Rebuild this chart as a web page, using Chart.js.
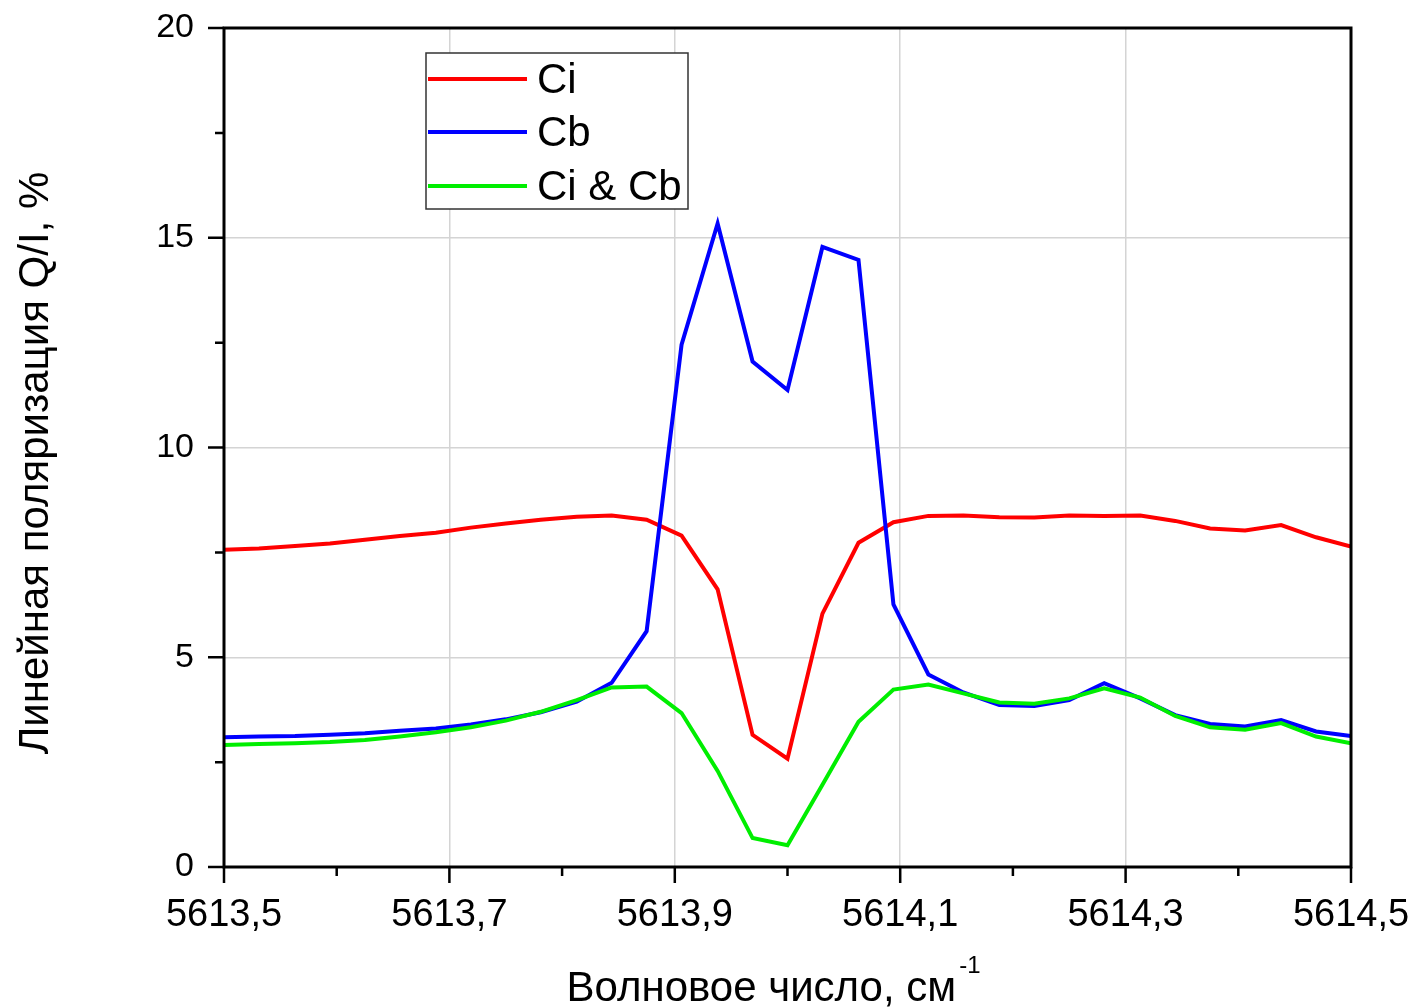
<!DOCTYPE html>
<html lang="ru">
<head>
  <meta charset="UTF-8">
  <title>Линейная поляризация</title>
  <style>
* {
  margin: 0;
  padding: 0;
}
body {
  background: #fff;
}
  </style>
</head>
<body>
  <canvas id="myChart" width="1410" height="1007"></canvas>
  <script src="https://cdn.jsdelivr.net/npm/chart.js@4.4.1/dist/chart.umd.min.js"></script>
  <script>
    // волновое число, см-1
    let waveNumbers = [
      5613.500, 5613.531, 5613.563, 5613.594, 5613.625, 5613.656, 5613.688, 5613.719,
      5613.750, 5613.781, 5613.813, 5613.844, 5613.875, 5613.906, 5613.938, 5613.969,
      5614.000, 5614.031, 5614.063, 5614.094, 5614.125, 5614.156, 5614.188, 5614.219,
      5614.250, 5614.281, 5614.313, 5614.344, 5614.375, 5614.406, 5614.438, 5614.469,
      5614.500
    ];
    let ciValues = [
      7.56, 7.59, 7.65, 7.71, 7.80, 7.89, 7.97, 8.09, 8.19, 8.28, 8.35, 8.38, 8.28, 7.90, 6.62, 3.15,
      2.58, 6.04, 7.73, 8.22, 8.37, 8.38, 8.34, 8.33, 8.38, 8.37, 8.38, 8.25, 8.07, 8.02, 8.15, 7.86,
      7.64
    ];
    let cbValues = [
      3.09, 3.11, 3.12, 3.15, 3.19, 3.25, 3.30, 3.40, 3.52, 3.69, 3.94, 4.39, 5.62, 12.45, 15.34, 12.05,
      11.37, 14.78, 14.47, 6.26, 4.59, 4.16, 3.86, 3.84, 3.98, 4.38, 4.02, 3.62, 3.41, 3.35, 3.50, 3.23,
      3.12
    ];
    let ciCbValues = [
      2.91, 2.93, 2.95, 2.98, 3.03, 3.11, 3.21, 3.33, 3.49, 3.70, 3.98, 4.28, 4.30, 3.67, 2.29, 0.69,
      0.52, 1.96, 3.46, 4.23, 4.35, 4.14, 3.92, 3.89, 4.02, 4.26, 4.04, 3.60, 3.33, 3.27, 3.43, 3.11,
      2.95
    ];
    let seriesNames = ['Ci', 'Cb', 'Ci & Cb'];
    let seriesColors = ['#ff0000', '#0000ff', '#00ee00'];
    let xMin = 5613.5, xMax = 5614.5, xStep = 0.1;
    let yMin = 0, yMax = 20, yStep = 2.5;

    let fontFamily = '"Liberation Sans", Arial, sans-serif';

    function toPoints(values) {
      return values.map((v, i) => ({ x: waveNumbers[i], y: v }));
    }
    function isMajorX(v) {
      let n = Math.round((v - xMin) * 10);
      return n % 2 === 0;
    }
    function isMajorY(v) {
      return Math.abs(v / 5 - Math.round(v / 5)) < 1e-6;
    }
    // убираем автоматические отступы шкал, чтобы область графика была фиксированной
    function noPad(s) {
      s.paddingLeft = 0;
      s.paddingRight = 0;
      s.paddingTop = 0;
      s.paddingBottom = 0;
    }

    // рамка, засечки, подписи осей и легенда
    let decorPlugin = {
      id: 'decor',
      afterDraw(chart) {
        let c = chart.ctx;
        let a = chart.chartArea;
        let xs = chart.scales.x, ys = chart.scales.y;
        c.save();
        c.strokeStyle = '#000';
        c.lineWidth = 3;
        c.strokeRect(a.left, a.top, a.right - a.left, a.bottom - a.top);

        c.lineWidth = 2.5;
        c.beginPath();
        xs.ticks.forEach(t => {
          let px = xs.getPixelForValue(t.value);
          let len = isMajorX(t.value) ? 16 : 9;
          c.moveTo(px, a.bottom);
          c.lineTo(px, a.bottom + len);
        });
        ys.ticks.forEach(t => {
          let py = ys.getPixelForValue(t.value);
          let len = isMajorY(t.value) ? 16 : 9;
          c.moveTo(a.left, py);
          c.lineTo(a.left - len, py);
        });
        c.stroke();

        // подпись оси X с показателем степени
        c.fillStyle = '#000';
        c.textBaseline = 'alphabetic';
        c.font = '42px ' + fontFamily;
        let xt = 'Волновое число, см';
        let w = c.measureText(xt).width;
        c.font = '24px ' + fontFamily;
        let sw = c.measureText('-1').width;
        let x0 = 772 - (w + sw) / 2;
        c.font = '42px ' + fontFamily;
        c.textAlign = 'left';
        c.fillText(xt, x0, 1001);
        c.font = '24px ' + fontFamily;
        c.fillText('-1', x0 + w + 3, 973);

        // подпись оси Y
        c.save();
        c.translate(48, 463);
        c.rotate(-Math.PI / 2);
        c.font = '42px ' + fontFamily;
        c.textAlign = 'center';
        c.fillText('Линейная поляризация Q/I, %', 0, 0);
        c.restore();

        // легенда
        c.lineWidth = 1.5;
        c.strokeStyle = '#333';
        c.fillStyle = '#fff';
        c.fillRect(426, 53, 262, 156);
        c.strokeRect(426, 53, 262, 156);
        c.font = '42px ' + fontFamily;
        c.textAlign = 'left';
        c.textBaseline = 'middle';
        let rows = [79, 132, 186];
        seriesNames.forEach((name, i) => {
          c.strokeStyle = seriesColors[i];
          c.lineWidth = 4;
          c.beginPath();
          c.moveTo(428, rows[i]);
          c.lineTo(527, rows[i]);
          c.stroke();
          c.fillStyle = '#000';
          c.fillText(name, 537, rows[i] + 2);
        });
        c.restore();
      }
    };

    let ctx = document.getElementById('myChart').getContext('2d');
    let myChart = new Chart(ctx, {
      type: 'line',
      data: {
        datasets: [
          { label: seriesNames[0], data: toPoints(ciValues), borderColor: seriesColors[0], order: 3 },
          { label: seriesNames[1], data: toPoints(cbValues), borderColor: seriesColors[1], order: 2 },
          { label: seriesNames[2], data: toPoints(ciCbValues), borderColor: seriesColors[2], order: 1 }
        ]
      },
      options: {
        responsive: false,
        animation: false,
        layout: { padding: { left: 0, top: 28, right: 59, bottom: 0 } },
        elements: {
          line: { borderWidth: 4, tension: 0, fill: false },
          point: { radius: 0 }
        },
        plugins: {
          legend: { display: false },
          tooltip: { enabled: false }
        },
        scales: {
          x: {
            type: 'linear',
            min: xMin,
            max: xMax,
            afterFit: s => { s.height = 140; noPad(s); },
            ticks: {
              stepSize: xStep,
              padding: 26,
              color: '#000',
              font: { family: fontFamily, size: 38 },
              maxRotation: 0,
              autoSkip: false,
              callback: v => isMajorX(v) ? v.toFixed(1).replace('.', ',') : ''
            },
            grid: {
              drawTicks: false,
              lineWidth: 1.5,
              color: c => (c.tick && isMajorX(c.tick.value) && c.tick.value > xMin + 0.01 && c.tick.value < xMax - 0.01) ? '#d4d4d4' : 'rgba(0,0,0,0)'
            },
            border: { display: false }
          },
          y: {
            min: yMin,
            max: yMax,
            afterFit: s => { s.width = 224; noPad(s); },
            ticks: {
              stepSize: yStep,
              padding: 30,
              color: '#000',
              font: { family: fontFamily, size: 34 },
              callback: v => isMajorY(v) ? String(v) : ''
            },
            grid: {
              drawTicks: false,
              lineWidth: 1.5,
              color: c => (c.tick && isMajorY(c.tick.value) && c.tick.value > 0 && c.tick.value < 20) ? '#d4d4d4' : 'rgba(0,0,0,0)'
            },
            border: { display: false }
          }
        }
      },
      plugins: [decorPlugin]
    });
  </script>
</body>
</html>
